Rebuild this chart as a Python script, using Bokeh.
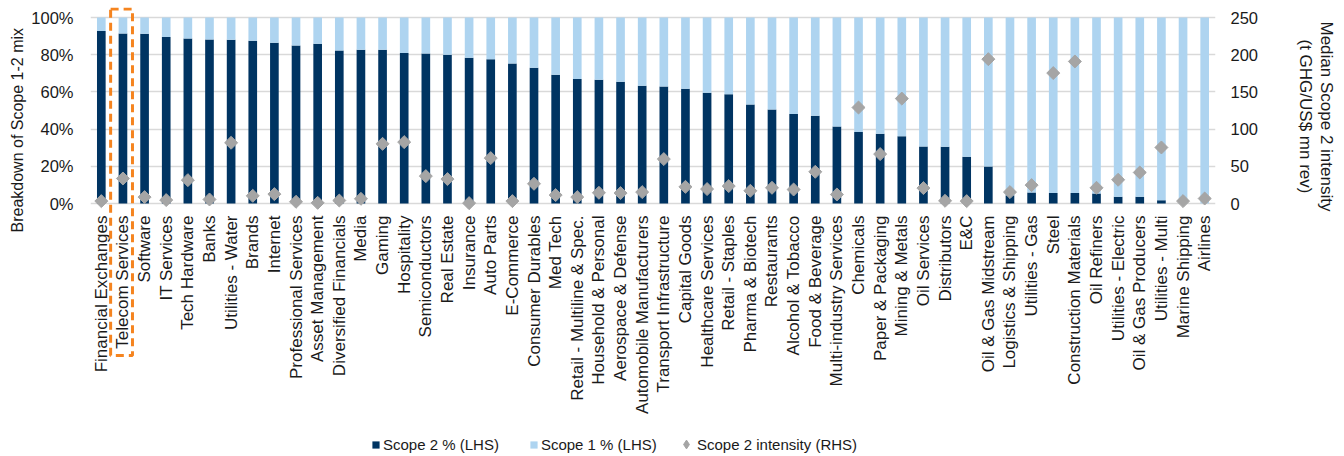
import math
from bokeh.plotting import figure
from bokeh.models import (Range1d, LinearAxis, FixedTicker, PrintfTickFormatter,
                          Title, BoxAnnotation, ColumnDataSource, FactorRange,
                          Legend, LegendItem)
from bokeh.embed import file_html
from bokeh.resources import INLINE

categories = [
    "Financial Exchanges", "Telecom Services", "Software", "IT Services", "Tech Hardware",
    "Banks", "Utilities - Water", "Brands", "Internet", "Professional Services",
    "Asset Management", "Diversified Financials", "Media", "Gaming", "Hospitality",
    "Semiconductors", "Real Estate", "Insurance", "Auto Parts", "E-Commerce",
    "Consumer Durables", "Med Tech", "Retail - Multiline & Spec.", "Household & Personal",
    "Aerospace & Defense", "Automobile Manufacturers", "Transport Infrastructure",
    "Capital Goods", "Healthcare Services", "Retail - Staples", "Pharma & Biotech",
    "Restaurants", "Alcohol & Tobacco", "Food & Beverage", "Multi-industry Services",
    "Chemicals", "Paper & Packaging", "Mining & Metals", "Oil Services", "Distributors",
    "E&C", "Oil & Gas Midstream", "Logistics & Shipping", "Utilities - Gas", "Steel",
    "Construction Materials", "Oil Refiners", "Utilities - Electric",
    "Oil & Gas Producers", "Utilities - Multi", "Marine Shipping", "Airlines",
]

scope2_pct = [92.8, 91.4, 91.2, 89.5, 88.7, 88.2, 88.0, 87.5, 86.4, 85.0,
              85.9, 82.3, 82.6, 82.6, 80.9, 80.6, 80.0, 78.3, 77.6, 75.3,
              73.0, 69.2, 67.0, 66.5, 65.4, 63.3, 62.9, 61.7, 59.5, 58.8,
              53.2, 50.5, 48.1, 47.2, 41.4, 38.5, 37.5, 36.2, 30.7, 30.5,
              25.1, 19.9, 4.5, 5.9, 5.6, 5.6, 5.4, 3.6, 3.6, 1.8,
              0.0, 0.0]

scope1_pct = [100.0 - v for v in scope2_pct]

scope2_intensity = [3.2, 33.6, 8.6, 4.6, 31.4, 5.4, 81.6, 10.3, 12.6, 2.3,
                    0.9, 4.0, 6.3, 80.2, 82.5, 36.8, 32.8, 0.5, 61.0, 3.2,
                    26.5, 11.3, 8.6, 14.4, 14.0, 15.3, 59.7, 22.4, 19.4, 23.4,
                    17.1, 21.1, 18.8, 42.6, 12.1, 129.0, 66.4, 141.0, 20.7, 3.6,
                    3.2, 194.0, 15.3, 24.7, 175.3, 190.9, 21.1, 31.9, 41.7, 75.3,
                    3.2, 6.7]

series_labels = ["Scope 2 % (LHS)", "Scope 1 % (LHS)", "Scope 2 intensity (RHS)"]
lhs_ticks = [0, 20, 40, 60, 80, 100]
rhs_ticks = [0, 50, 100, 150, 200, 250]
highlight = "Telecom Services"

DARK = "#003462"
LIGHT = "#AED4F0"
GREY = "#A5A5A5"
ORANGE = "#F5841F"
FONT = "Liberation Sans"
TXT = "#1a1a1a"

# ---- layout geometry (pixels) ----
W, H = 1344, 456
FRAME_TOP = 7            # top of drawing area (highlight box top)
PLOT_TOP = 17            # 100% / 250 line
PLOT_BOTTOM = 203        # 0 line
LEFT, RIGHT = 90, 1215
LHS_MAX, RHS_MAX = 100.0, 250.0
px_lhs = (PLOT_BOTTOM - PLOT_TOP) / LHS_MAX
px_rhs = (PLOT_BOTTOM - PLOT_TOP) / RHS_MAX


def lhs_at(py):
    return (PLOT_BOTTOM - py) / px_lhs


def rhs_at(py):
    return (PLOT_BOTTOM - py) / px_rhs


src = ColumnDataSource(dict(cat=categories, s2=scope2_pct, s1=scope1_pct,
                            inten=scope2_intensity))

p = figure(x_range=FactorRange(*categories),
           y_range=Range1d(lhs_at(H), lhs_at(FRAME_TOP)),
           width=W, height=H, output_backend="svg", toolbar_location=None,
           min_border_left=LEFT, min_border_right=W - RIGHT, min_border_top=FRAME_TOP,
           min_border_bottom=0)
p.outline_line_color = None
p.background_fill_color = "white"
p.border_fill_color = "white"

p.extra_y_ranges = {"rhs": Range1d(rhs_at(H), rhs_at(FRAME_TOP))}

bars = p.vbar_stack(["s2", "s1"], x="cat", width=0.4, source=src,
                    color=[DARK, LIGHT], line_color=None)
pts = p.scatter(x="cat", y="inten", source=src, y_range_name="rhs", marker="square",
                size=9.2, angle=math.pi / 4, fill_color=GREY, line_color=GREY)
# legend swatch for the rotated-square markers (legend glyphs are drawn unrotated):
# same data, hidden in the plot itself
pts_key = p.scatter(x="cat", y="inten", source=src, y_range_name="rhs",
                    marker="diamond", fill_color=GREY, line_color=GREY, visible=False)

# axes
ya = p.yaxis[0]
ya.ticker = FixedTicker(ticks=lhs_ticks)
ya.formatter = PrintfTickFormatter(format="%d%%")
ra = LinearAxis(y_range_name="rhs", ticker=FixedTicker(ticks=rhs_ticks))
p.add_layout(ra, "right")

for ax in [ya, ra]:
    ax.axis_line_color = None
    ax.major_tick_line_color = None
    ax.minor_tick_line_color = None
    ax.major_tick_out = 0
    ax.major_tick_in = 0
    ax.minor_tick_out = 0
    ax.major_label_text_font = FONT
    ax.major_label_text_font_size = "16.5px"
    ax.major_label_text_color = TXT
ya.major_label_standoff = 17
ra.major_label_standoff = 15

xa = p.xaxis[0]
xa.fixed_location = 0
xa.axis_line_color = None
xa.major_tick_line_color = None
xa.major_tick_out = 0
xa.major_tick_in = 0
xa.major_label_orientation = math.pi / 2
xa.major_label_standoff = 12
xa.major_label_text_font = FONT
xa.major_label_text_font_size = "17px"
xa.major_label_text_color = TXT

p.xgrid.grid_line_color = None
p.ygrid.grid_line_color = "#D9D9D9"
p.ygrid.grid_line_width = 1.5

# axis titles as side-panel titles
p.add_layout(Title(text="Breakdown of Scope  1-2 mix", align="right",
                   offset=23 - FRAME_TOP, standoff=6,
                   text_font=FONT, text_font_size="16px", text_font_style="normal",
                   text_color=TXT), "left")
# spacer between right tick labels and the two-line right title
p.add_layout(Title(text=" ", standoff=31, text_font_size="1px"), "right")
p.add_layout(Title(text="(t GHG/US$ mn rev)", align="left",
                   offset=39 - FRAME_TOP, standoff=0,
                   text_font=FONT, text_font_size="17px", text_font_style="normal",
                   text_color=TXT), "right")
p.add_layout(Title(text="Median Scope 2 intensity", align="left",
                   offset=21 - FRAME_TOP, standoff=0,
                   text_font=FONT, text_font_size="17px", text_font_style="normal",
                   text_color=TXT), "right")

# highlight box around Telecom Services
hi = categories.index(highlight)
p.add_layout(BoxAnnotation(left=hi - 0.07, right=hi + 0.94,
                           top=lhs_at(FRAME_TOP + 1.5), bottom=lhs_at(355),
                           fill_color=None, fill_alpha=0, line_color=ORANGE,
                           line_alpha=1.0, line_width=3, line_dash="8 5"))


def style_legend(lg, glyph, standoff):
    lg.orientation = "horizontal"
    lg.padding = 0
    lg.margin = 0
    lg.spacing = 30
    lg.glyph_width = glyph
    lg.glyph_height = glyph
    lg.label_standoff = standoff
    lg.border_line_color = None
    lg.background_fill_alpha = 0
    lg.inactive_fill_alpha = 0
    lg.label_text_font = FONT
    lg.label_text_font_size = "15px"
    lg.label_text_color = TXT


lg_bars = Legend(items=[LegendItem(label=series_labels[0], renderers=[bars[0]]),
                        LegendItem(label=series_labels[1], renderers=[bars[1]])],
                 location=(371 - LEFT, 3))
style_legend(lg_bars, 9, 3)
lg_pts = Legend(items=[LegendItem(label=series_labels[2], renderers=[pts_key])],
                location=(675 - LEFT, 1))
style_legend(lg_pts, 22, 0)
p.add_layout(lg_bars, "center")
p.add_layout(lg_pts, "center")

open("out.html", "w").write(file_html(p, INLINE))
